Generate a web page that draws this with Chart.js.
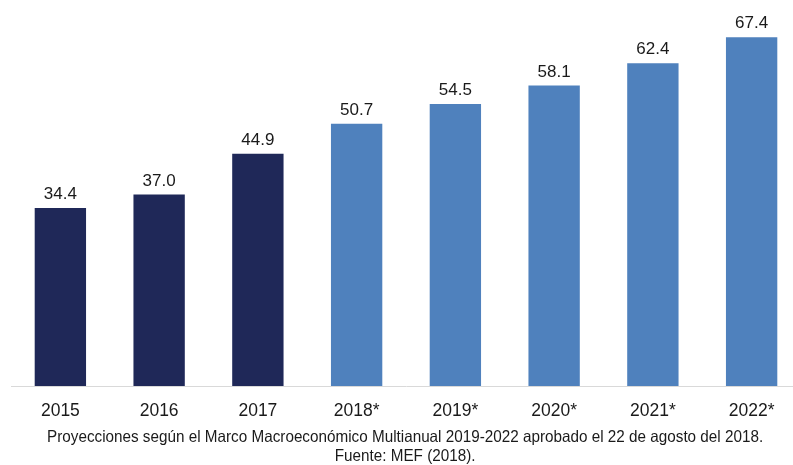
<!DOCTYPE html>
<html>
<head>
<meta charset="utf-8">
<script src="https://cdn.jsdelivr.net/npm/chart.js@4/dist/chart.umd.min.js"></script>
<style>
  html, body { margin:0; padding:0; background:#fff; overflow:hidden; width:793px; height:465px; }
  #wrap { position:absolute; left:11px; top:0; width:790px; height:437px; }
  .foot { position:absolute; left:0; width:810px; text-align:center; color:#1a1a1a;
          font-family:"Liberation Sans",Arial,sans-serif; font-size:16.5px; line-height:19px; white-space:nowrap; }
  .foot span { display:inline-block; transform-origin:center center; }
</style>
</head>
<body>
<div id="wrap"><canvas id="c"></canvas></div>
<div class="foot" style="top:427px;"><span id="f1">Proyecciones según el Marco Macroeconómico Multianual 2019-2022 aprobado el 22 de agosto del 2018.</span></div>
<div class="foot" style="top:446px;"><span id="f2">Fuente: MEF (2018).</span></div>
<script>
const categories = ["2015","2016","2017","2018*","2019*","2020*","2021*","2022*"];
const values = [34.4, 37.0, 44.9, 50.7, 54.5, 58.1, 62.4, 67.4];
const isProjection = [false,false,false,true,true,true,true,true];

// condense footer text to match the narrow face of the original
(function(){
  const f1 = document.getElementById('f1');
  const s = 716 / f1.offsetWidth;
  f1.style.transform = 'scaleX(' + s + ')';
  document.getElementById('f2').style.transform = 'scaleX(' + s + ')';
})();

const labelPlugin = {
  id:'barLabels',
  afterDatasetsDraw(chart){
    const ctx = chart.ctx;
    const meta = chart.getDatasetMeta(0);
    ctx.save();
    ctx.font = '17px "Liberation Sans", Arial, sans-serif';
    ctx.fillStyle = '#1a1a1a';
    ctx.textAlign = 'center';
    ctx.textBaseline = 'bottom';
    meta.data.forEach((bar,i)=>{
      ctx.fillText(values[i].toFixed(1), bar.x, bar.y - 5);
    });
    ctx.restore();
  }
};

new Chart(document.getElementById('c'), {
  type:'bar',
  data:{
    labels:categories,
    datasets:[{
      data:values,
      backgroundColor: isProjection.map(p => p ? '#4f81bd' : '#1f2858'),
      borderWidth:0,
      barPercentage:0.52,
      categoryPercentage:1.0
    }]
  },
  options:{
    responsive:true,
    maintainAspectRatio:false,
    animation:false,
    layout:{padding:0},
    plugins:{legend:{display:false}, tooltip:{enabled:false}},
    scales:{
      x:{
        grid:{display:false, drawTicks:false},
        border:{display:true, color:'#d9d9d9', width:1},
        ticks:{color:'#1a1a1a', padding:15, font:{family:'"Liberation Sans", Arial, sans-serif', size:17.5}}
      },
      y:{
        display:false,
        min:0,
        max:74.6
      }
    }
  },
  plugins:[labelPlugin]
});
</script>
</body>
</html>
